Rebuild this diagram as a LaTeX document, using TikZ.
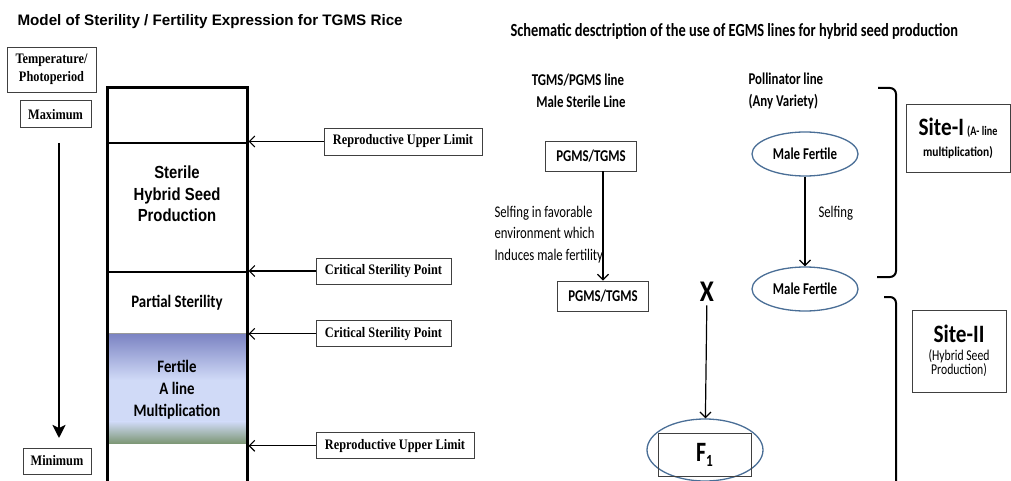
\documentclass[tikz,border=0pt]{standalone}
\usepackage{fontspec}
\usepackage{tikz}
\usetikzlibrary{positioning, arrows, arrows.meta, calc, shapes.geometric}
\usepackage{xcolor}
\newfontfamily\timesf[FakeStretch=0.85]{Liberation Serif}
\newfontfamily\arialf{Liberation Sans}
\newfontfamily\arialnf[FakeStretch=0.85]{Liberation Sans}
\newfontfamily\calf[FakeStretch=0.85]{Carlito}
\newfontfamily\calnf[FakeStretch=0.78]{Carlito}
\definecolor{ellblue}{HTML}{4A6E96}
\definecolor{fertop}{HTML}{7A82C2}
\definecolor{fermid}{HTML}{D0DAF7}
\definecolor{ferbot}{HTML}{7E9877}
\definecolor{boxgray}{HTML}{404040}

\begin{document}
\begin{tikzpicture}[x=1pt, y=-1pt,
	tbox/.style={draw=boxgray, line width=0.9pt, inner sep=0pt, align=center,
		font=\timesf\bfseries\fontsize{14.5}{18}\selectfont},
	colt/.style={align=center, font=\calf\bfseries\fontsize{17.5}{22}\selectfont},
	ctext/.style={font=\calnf\bfseries\fontsize{16.5}{21.5}\selectfont},
	ltext/.style={font=\calnf\fontsize{16.3}{21.5}\selectfont},
	gbox/.style={draw=boxgray, line width=0.9pt, ctext, minimum height=30pt, inner xsep=11pt},
	ell/.style={ellipse, draw=ellblue, line width=1.3pt, ctext, minimum width=106pt, minimum height=44pt},
	sitebox/.style={draw=boxgray, line width=0.9pt, align=center, inner sep=0pt},
	barb/.style={-{Straight Barb[length=5.5pt, width=11pt]}}]
					\useasboundingbox (0,0) rectangle (1011,481);
					\clip (0,0) rectangle (1011,481);
					
					% left: sterility / fertility model
					\node[anchor=west, font=\arialf\bfseries\fontsize{15.2}{18}\selectfont] (ttl) at (14,22) {Model of Sterility / Fertility Expression for TGMS Rice};
					\node[tbox, minimum width=89pt, minimum height=45pt] (temp) at (51.5,69.5) {Temperature/\\Photoperiod};
					\node[tbox, minimum width=71pt, minimum height=27pt, below=8pt of temp, xshift=4pt] (max) {Maximum};
					\node[tbox, minimum width=68pt, minimum height=26pt] (min) at (57,461) {Minimum};
					\coordinate (arrt) at (59,143);
					\coordinate (arrb) at (59,438);
					\draw[-{Stealth[length=13pt, width=13pt, inset=3pt]}, line width=2.5pt] (arrt) -- (arrb);
					
					\shade[top color=fertop, bottom color=fermid] (107,333) rectangle (247,380);
					\fill[fermid] (107,379.5) rectangle (247,422);
					\shade[top color=fermid, bottom color=ferbot] (107,421.5) rectangle (247,443);
					\draw[line width=1.5pt] (107,143) -- (247,143);
					\draw[line width=1.5pt] (107,272) -- (247,272);
					\draw[line width=0.6pt, black!40] (107,333) -- (247,333);
					\draw[line width=3pt] (107,490) |- (247,88) -- (247,490);
					\coordinate (colr) at (248.5,0);
					
					\node[colt, font=\arialnf\bfseries\fontsize{17.5}{21.5}\selectfont] (ster) at (177,194) {Sterile\\Hybrid Seed\\Production};
					\node[colt] (part) at (177,303) {Partial Sterility};
					\node[colt] (fert) at (177,390) {Fertile\\A line\\Multiplication};
					
					\node[tbox, minimum width=158pt, minimum height=27pt] (rul1) at (403,141.5) {Reproductive Upper Limit};
					\node[tbox, minimum width=135pt, minimum height=26pt] (csp1) at (383.5,271) {Critical Sterility Point};
					\node[tbox, minimum width=135pt, minimum height=26pt, below=36pt of csp1] (csp2) {Critical Sterility Point};
					\node[tbox, minimum width=158pt, minimum height=26pt, below=85pt of csp2, xshift=11.5pt] (rul2) {Reproductive Upper Limit};
					
					\draw[line width=1.1pt]
					(rul1) edge[barb] (rul1 -| colr)
					(csp1) edge[barb] (csp1 -| colr)
					(csp2) edge[barb] (csp2 -| colr)
					(rul2) edge[barb] (rul2 -| colr);
					
					% right: EGMS hybrid seed scheme
					\node[anchor=west, font=\calnf\bfseries\fontsize{18.5}{20}\selectfont] (ttr) at (507,31) {Schematic desctription of the use of EGMS lines for hybrid seed production};
					\node[ctext, align=center] (tgms) at (578,91) {TGMS/PGMS line\\\ \ Male Sterile Line};
					\node[ctext, align=left, anchor=west] (poll) at (745,91) {Pollinator line\\(Any Variety)};
					
					\node[gbox] (pg1) at (591,156) {PGMS/TGMS};
					\node[gbox] (pg2) at (603,296) {PGMS/TGMS};
					\node[ltext, align=left, anchor=west] (cond) at (491,234.5) {Selfing in favorable\\environment which\\Induces male fertility};
					\draw[barb, line width=1.2pt] (pg1.south -| pg2.north) -- (pg2.north);
					
					\node[ell] (mf1) at (805,154) {Male Fertile};
					\node[ell] (mf2) at (805,289) {Male Fertile};
					\node[ltext, anchor=west] (self) at (815,213) {Selfing};
					\draw[line width=1.2pt] (mf1) edge[barb] (mf2);
					
					\node[font=\calf\bfseries\fontsize{30}{30}\selectfont] (x) at (707,292) {X};
					\node[ellipse, draw=ellblue, line width=1.3pt, minimum width=116pt, minimum height=62pt] (f1e) at (705,450) {};
					\node[draw=boxgray, line width=0.9pt, minimum width=93pt, minimum height=43pt, font=\calnf\bfseries\fontsize{28}{28}\selectfont] (f1) at (704.5,454.5) {F\raisebox{-5pt}{\fontsize{17}{17}\selectfont 1}};
					\draw[line width=1.2pt] (x) edge[barb] (f1e);
					
					% site brackets
					\draw[line width=2pt, rounded corners=6pt] (878,88) -- (896,88) -- (896,277) -- (877,277);
					\draw[line width=2pt, rounded corners=6pt] (884,297) -- (896,297) -- (896,490);
					\node[sitebox, minimum width=104pt, minimum height=68pt] (site1) at (958,138) {{\calf\bfseries\fontsize{25}{25}\selectfont Site-I} {\calnf\bfseries\fontsize{13}{13}\selectfont (A- line}\\[9pt]{\calf\bfseries\fontsize{13.5}{16}\selectfont multiplication)}};
					\node[sitebox, minimum width=94pt, minimum height=82pt] (site2) at (959,351) {{\calf\bfseries\fontsize{25}{25}\selectfont Site-II}\\[6pt]{\calnf\fontsize{15}{19}\selectfont (Hybrid Seed}\\{\calnf\fontsize{15}{19}\selectfont Production)}};
				\end{tikzpicture}
\end{document}
